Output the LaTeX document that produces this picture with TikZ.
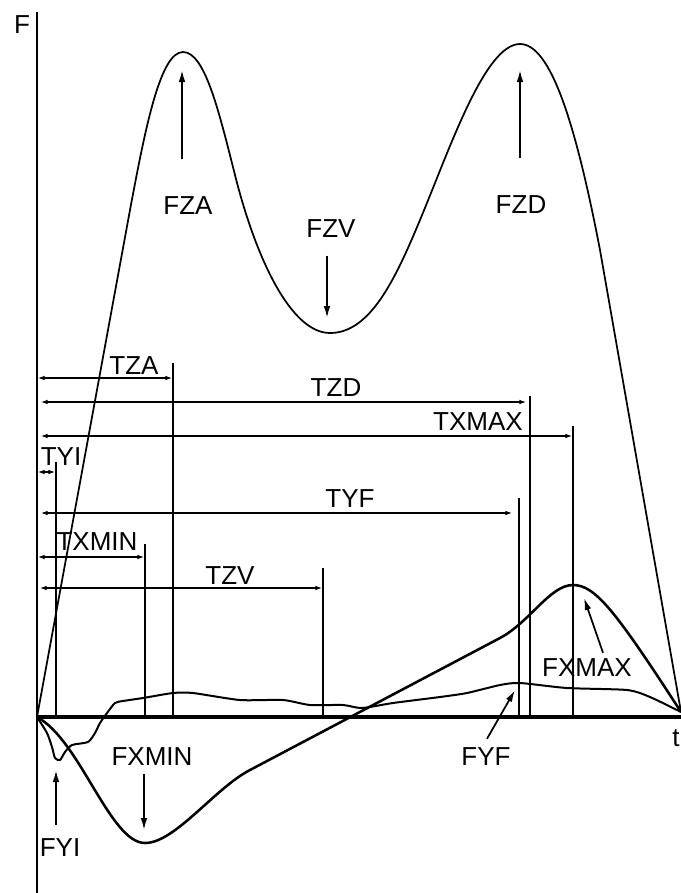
\documentclass[tikz,border=0pt]{standalone}
\usepackage{fontspec}
\setmainfont{Liberation Sans}
\usetikzlibrary{arrows,arrows.meta,positioning}

\begin{document}
\begin{tikzpicture}[
		x=0.75pt, y=-0.75pt,
		axis/.style    = {line width=1.9pt},
		taxis/.style   = {line width=3pt},
		tline/.style   = {line width=0.8pt},
		dim/.style     = {<->, line width=0.8pt, >={Latex[length=5pt,width=3.5pt]}},
		pointer/.style = {-{Latex[length=9pt,width=5pt]}, line width=1.3pt},
		lbl/.style     = {font=\fontsize{19.5}{21}\selectfont, inner sep=0pt},
		fz/.style      = {line width=1.3pt},
		fx/.style      = {line width=1.9pt},
		fy/.style      = {line width=1.5pt}]
		
		\useasboundingbox (0,0) rectangle (681,893);
		
		% time marks, from the t axis up to their tops
		\foreach \name/\xx/\ytop in {yi/56/462, xmin/145/544, za/173/363, zv/323/568,
			yf/519/498, zd/530/396, xmax/573/426}
		\draw[tline] (\xx,717) -- (\xx,\ytop) coordinate (m\name);
		
		% time spans, measured from the F axis
		\foreach \name/\yy/\xs/\xe/\lx/\ly/\txt in {za/378/38/172/134/366/TZA,
			zd/402/41/526/336/388/TZD, xmax/436/41/572/478/422/TXMAX,
			yi/472/38/55/61/457/TYI, yf/513/41/512/350/499/TYF,
			xmin/557/38/144/97/542/TXMIN, zv/588/40/322/230/576/TZV}
		{
			\draw[dim] (\xs,\yy) -- (\xe,\yy);
			\node[lbl] (t\name) at (\lx,\ly) {\txt};
		}
		
		% the three force curves
		\draw[fz] (37,717) -- (130,210) .. controls (145,130) and (160,52) .. (183,52)
			.. controls (205,52) and (219,112) .. (235,175)
			.. controls (255,255) and (290,333) .. (330,333)
			.. controls (370,333) and (395,280) .. (420,220)
			.. controls (450,148) and (485,44) .. (520,44)
			.. controls (550,44) and (575,120) .. (600,250) -- (681,712);
		
		\draw[fx] (37,717) .. controls (80,740) and (110,843) .. (145,843)
			.. controls (175,843) and (215,788) .. (250,770) -- (500,638)
			.. controls (530,622) and (550,585) .. (573,585)
			.. controls (595,585) and (615,610) .. (681,712);
		
		\draw[fy] plot[smooth, tension=0.4] coordinates {(37,717) (47,733) (52,747) (55,758)
			(60,760) (65,752) (72,745) (88,742) (95,733) (100,723) (107,713) (115,703)
			(123,701) (143,698) (173,693) (193,693) (240,700) (283,700) (310,705)
			(343,705) (362,708) (393,703) (440,697) (467,693) (500,685) (520,683) (567,688)
			(627,690) (650,697) (681,712)};
		
		% axes
		\draw[axis] (37,12) -- (37,893);
		\draw[taxis] (37,717) -- (681,717);
		\node[lbl] (F) at (22,25) {F};
		\node[lbl] (t) at (676,738) {t};
		
		% peak and valley labels
		\node[lbl] (fza) at (188,206) {FZA};
		\node[lbl] (fzd) at (521,205) {FZD};
		\node[lbl] (fzv) at (331,229) {FZV};
		\node[lbl] (fxmin) at (152,757) {FXMIN};
		\node[lbl] (fyi) at (60,848) {FYI};
		\node[lbl] (fxmax) at (587,668) {FXMAX};
		\node[lbl] (fyf) at (486,757) {FYF};
		
		\coordinate (pza) at (182,70);
		\coordinate (pzd) at (520,70);
		\coordinate (pzv) at (327,318);
		\coordinate (pxmin) at (144,830);
		\coordinate (pyi) at (56,770);
		\coordinate (pxmax) at (584,598);
		\coordinate (pyf) at (515,690);
		
		% pointers from the labels to the curves
		\draw[pointer, shorten <=28pt] (fza.north -| pza) -- (pza);
		\draw[pointer, shorten <=28pt] (fzd.north -| pzd) -- (pzd);
		\draw[pointer, shorten <=13pt] (fzv.south -| pzv) -- (pzv);
		\draw[pointer, shorten <=6pt] (fxmin.south -| pxmin) -- (pxmin);
		\draw[pointer, shorten <=10pt] (fyi.north -| pyi) -- (pyi);
		\draw[pointer] ([shift={(16,-6)}]fxmax.north) -- (pxmax);
		\draw[pointer] ([shift={(1,-9)}]fyf.north) -- (pyf);
		
	\end{tikzpicture}
\end{document}
